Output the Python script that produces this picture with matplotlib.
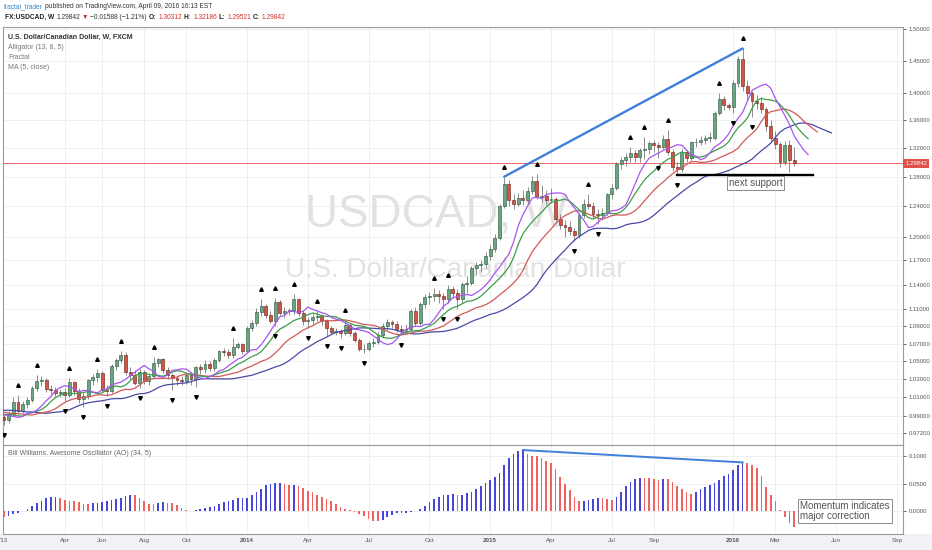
import matplotlib
matplotlib.use('Agg')
import matplotlib.pyplot as plt
from matplotlib.patches import Rectangle
import matplotlib.transforms as mtransforms
import numpy as np
import pandas as pd

# ---- weekly FX:USDCAD (FXCM), first visible bar = week of 2013-01-06 ----
first_week = '2013-01-06'

# closes of the 2012 weeks before the visible window (warm-up for the indicators)
prior_close = [0.997, 0.996, 0.989, 0.985, 0.988, 1.002, 1.017, 1.024, 1.036, 1.031,
               1.024, 1.027, 1.018, 1.017, 1.021, 1.013, 1.015, 1.003, 0.994, 0.992,
               0.990, 0.988, 0.982, 0.972, 0.978, 0.983, 0.986, 0.982, 0.988, 0.997,
               0.999, 0.998, 1.000, 0.998, 0.993, 0.991, 0.987, 0.988, 0.993, 0.9885]

close = [0.986, 0.992, 1.005, 0.995, 1.003, 1.0075, 1.020, 1.0275, 1.029, 1.019,
         1.018, 1.015, 1.016, 1.012, 1.0265, 1.017, 1.008, 1.011, 1.0285, 1.032,
         1.037, 1.018, 1.017, 1.045, 1.051, 1.057, 1.038, 1.035, 1.026, 1.038,
         1.028, 1.033, 1.048, 1.052, 1.040, 1.034, 1.031, 1.029, 1.028, 1.034,
         1.030, 1.043, 1.041, 1.047, 1.042, 1.051, 1.061, 1.0605, 1.057, 1.066,
         1.070, 1.062, 1.0885, 1.094, 1.107, 1.114, 1.103, 1.096, 1.119, 1.106,
         1.108, 1.109, 1.122, 1.106, 1.096, 1.0975, 1.101, 1.102, 1.096, 1.088,
         1.0835, 1.084, 1.082, 1.092, 1.082, 1.0745, 1.064, 1.0635, 1.071, 1.072,
         1.080, 1.090, 1.0955, 1.093, 1.0865, 1.086, 1.087, 1.108, 1.094, 1.116,
         1.125, 1.126, 1.128, 1.1255, 1.122, 1.134, 1.130, 1.122, 1.141, 1.142,
         1.160, 1.164, 1.165, 1.176, 1.185, 1.199, 1.241, 1.2705, 1.2485, 1.243,
         1.2515, 1.248, 1.260, 1.2745, 1.2525, 1.254, 1.2485, 1.250, 1.2235, 1.215,
         1.213, 1.207, 1.202, 1.2285, 1.243, 1.241, 1.230, 1.228, 1.231, 1.256,
         1.264, 1.297, 1.303, 1.308, 1.3125, 1.308, 1.317, 1.319, 1.3265, 1.325,
         1.321, 1.3325, 1.314, 1.293, 1.290, 1.314, 1.306, 1.328, 1.329, 1.331,
         1.335, 1.335, 1.370, 1.3915, 1.382, 1.379, 1.416, 1.4525, 1.411, 1.400,
         1.389, 1.385, 1.376, 1.351, 1.334, 1.326, 1.301, 1.325, 1.30312, 1.29842]

high = [0.992, 0.995, 1.010, 1.012, 1.006, 1.010, 1.022, 1.034, 1.033, 1.031,
        1.024, 1.021, 1.019, 1.020, 1.031, 1.028, 1.020, 1.015, 1.030, 1.036,
        1.041, 1.039, 1.023, 1.047, 1.053, 1.062, 1.060, 1.043, 1.040, 1.041,
        1.040, 1.036, 1.055, 1.054, 1.053, 1.043, 1.037, 1.035, 1.033, 1.038,
        1.037, 1.045, 1.047, 1.051, 1.050, 1.054, 1.063, 1.065, 1.064, 1.076,
        1.072, 1.071, 1.090, 1.098, 1.112, 1.122, 1.117, 1.108, 1.124, 1.121,
        1.113, 1.112, 1.128, 1.124, 1.109, 1.101, 1.104, 1.108, 1.105, 1.099,
        1.090, 1.088, 1.087, 1.098, 1.094, 1.085, 1.076, 1.069, 1.073, 1.076,
        1.083, 1.094, 1.099, 1.098, 1.096, 1.091, 1.093, 1.110, 1.113, 1.119,
        1.128, 1.131, 1.136, 1.133, 1.130, 1.140, 1.138, 1.135, 1.143, 1.150,
        1.163, 1.168, 1.170, 1.180, 1.190, 1.204, 1.243, 1.280, 1.275, 1.256,
        1.258, 1.262, 1.266, 1.281, 1.284, 1.268, 1.262, 1.265, 1.253, 1.230,
        1.222, 1.220, 1.211, 1.232, 1.250, 1.256, 1.246, 1.236, 1.238, 1.258,
        1.270, 1.300, 1.308, 1.313, 1.322, 1.317, 1.320, 1.336, 1.330, 1.331,
        1.328, 1.338, 1.346, 1.318, 1.301, 1.318, 1.317, 1.330, 1.334, 1.337,
        1.339, 1.343, 1.373, 1.400, 1.396, 1.386, 1.420, 1.457, 1.469, 1.420,
        1.404, 1.398, 1.394, 1.380, 1.360, 1.345, 1.328, 1.330, 1.332, 1.32186]

low = [0.980, 0.983, 0.990, 0.992, 0.993, 0.999, 1.005, 1.017, 1.022, 1.016,
       1.014, 1.011, 1.010, 1.006, 1.010, 1.013, 1.004, 1.000, 1.008, 1.024,
       1.027, 1.016, 1.011, 1.015, 1.040, 1.048, 1.035, 1.030, 1.023, 1.020,
       1.025, 1.024, 1.031, 1.043, 1.037, 1.030, 1.018, 1.024, 1.024, 1.025,
       1.024, 1.021, 1.036, 1.037, 1.039, 1.039, 1.049, 1.056, 1.053, 1.054,
       1.064, 1.058, 1.060, 1.085, 1.090, 1.102, 1.100, 1.094, 1.090, 1.103,
       1.100, 1.103, 1.105, 1.102, 1.091, 1.088, 1.093, 1.096, 1.092, 1.079,
       1.081, 1.080, 1.076, 1.080, 1.079, 1.072, 1.062, 1.059, 1.062, 1.066,
       1.069, 1.077, 1.086, 1.088, 1.083, 1.080, 1.082, 1.085, 1.090, 1.092,
       1.112, 1.117, 1.120, 1.118, 1.111, 1.118, 1.124, 1.110, 1.118, 1.130,
       1.140, 1.152, 1.156, 1.160, 1.170, 1.181, 1.196, 1.238, 1.240, 1.236,
       1.240, 1.242, 1.243, 1.256, 1.250, 1.246, 1.242, 1.244, 1.220, 1.210,
       1.200, 1.202, 1.195, 1.199, 1.225, 1.236, 1.225, 1.217, 1.222, 1.228,
       1.250, 1.262, 1.290, 1.295, 1.300, 1.300, 1.300, 1.305, 1.312, 1.315,
       1.306, 1.318, 1.310, 1.288, 1.283, 1.286, 1.301, 1.302, 1.321, 1.324,
       1.326, 1.328, 1.332, 1.367, 1.375, 1.375, 1.370, 1.410, 1.404, 1.390,
       1.364, 1.376, 1.370, 1.345, 1.330, 1.318, 1.294, 1.296, 1.287, 1.29521]

# bars carrying a Williams fractal mark
fractal_up = [3, 7, 14, 20, 25, 32, 49, 55, 58, 62, 67, 73, 92, 95, 107, 114,
              125, 134, 137, 142, 153, 158]
fractal_down = [0, 13, 17, 22, 29, 36, 41, 58, 65, 69, 72, 77, 85, 94, 97, 122,
                127, 140, 144, 156, 160]

tick_months = ['2013-01', '2013-04', '2013-06', '2013-08', '2013-10', '2014-01',
               '2014-04', '2014-07', '2014-10', '2015-01', '2015-04', '2015-07',
               '2015-09', '2016-01', '2016-03', '2016-06', '2016-09']
tick_labels = ["'13", 'Apr', 'Jun', 'Aug', 'Oct', '2014', 'Apr', 'Jul', 'Oct',
               '2015', 'Apr', 'Jul', 'Sep', '2016', 'Mar', 'Jun', 'Sep']
price_ticks = [0.972, 0.99, 1.01, 1.03, 1.05, 1.07, 1.09, 1.11, 1.14, 1.17, 1.20,
               1.24, 1.28, 1.32, 1.36, 1.40, 1.45, 1.50]
ao_ticks = [0.0, 0.05, 0.10]

# ---- derived series ----
n = len(close)
idx = np.arange(n)
c = np.array(close)
h = np.array(high)
l = np.array(low)
o = np.array([prior_close[-1]] + close[:-1])
npre = len(prior_close)
x_full = np.arange(-npre, n)

full_close = pd.Series(prior_close + close)
hl2 = pd.Series(prior_close + list((h + l) / 2))


def smma(s, length):
    return s.ewm(alpha=1.0 / length, adjust=False).mean()


jaw = smma(hl2, 13)
teeth = smma(hl2, 8)
lips = smma(hl2, 5)
ma5 = full_close.rolling(5).mean()
ao_full = (hl2.rolling(5).mean() - hl2.rolling(34).mean()).values
ao = ao_full[npre:]
ao_prev = ao_full[npre - 1:-1]
ao_col = np.where(ao > ao_prev, '#4646D8', '#EE6262')

start = pd.Timestamp(first_week)


def week_pos(month):
    m = pd.Timestamp(month + '-01')
    d = m + pd.Timedelta(days=(6 - m.dayofweek) % 7)
    return (d - start).days / 7.0


tick_x = [week_pos(m) for m in tick_months]

ui = ['Liberation Sans', 'DejaVu Sans']

W, H = 932, 550
fig = plt.figure(figsize=(W / 100, H / 100), dpi=100)
fig.patch.set_facecolor('white')
fig.patches.append(Rectangle((0, 0), 1, 16 / H, transform=fig.transFigure,
                             fc='#F0F2F5', ec='none', zorder=-5))

ax = fig.add_axes([3 / W, 105 / H, 900 / W, 418 / H])
ax2 = fig.add_axes([3 / W, 16 / H, 900 / W, 89 / H], sharex=ax)

for a in (ax, ax2):
    for s in a.spines.values():
        s.set_color('#9A9A9A')
        s.set_linewidth(0.8)
    a.set_facecolor('white')

# ---- price pane ----
ax.set_yscale('log')
ax.set_xlim(-0.21, 192.3)
ax.set_ylim(0.9596, 1.5032)
ax.minorticks_off()

for xv in tick_x[1:]:
    ax.axvline(xv, color='#ECECEC', lw=0.6, zorder=0)
    ax2.axvline(xv, color='#ECECEC', lw=0.6, zorder=0)
for yv in price_ticks:
    ax.axhline(yv, color='#ECECEC', lw=0.6, zorder=0)

ax.text(0.336, 0.55, 'USDCAD, W', transform=ax.transAxes, family=ui,
        fontsize=33, color='#E2E2E2', ha='left', va='center', zorder=1)
ax.text(0.313, 0.419, 'U.S. Dollar/Canadian Dollar', transform=ax.transAxes,
        family=ui, fontsize=20, color='#E2E2E2', ha='left', va='center', zorder=1)

ax.axhline(c[-1], color='#EC6A62', lw=0.7, zorder=2)

up = c >= o
ax.vlines(idx, l, h, color='#7A7A7A', lw=0.6, zorder=3)
body_lo = np.minimum(o, c)
body_h = np.maximum(np.abs(c - o), 0.0007)
ax.bar(idx[up], body_h[up], bottom=body_lo[up], width=0.62, color='#6BA583',
       edgecolor='#225437', lw=0.4, zorder=4)
ax.bar(idx[~up], body_h[~up], bottom=body_lo[~up], width=0.62, color='#D75442',
       edgecolor='#5B1A13', lw=0.4, zorder=4)

ax.plot(x_full + 8, jaw, color='#4A4AA8', lw=0.9, zorder=5)
ax.plot(x_full + 5, teeth, color='#D25A5A', lw=0.9, zorder=5)
ax.plot(x_full + 3, lips, color='#3E9E4A', lw=0.9, zorder=5)
ax.plot(x_full + 3, ma5, color='#A855F0', lw=0.9, zorder=5)

up_tr = mtransforms.offset_copy(ax.transData, fig=fig, x=0, y=10, units='dots')
dn_tr = mtransforms.offset_copy(ax.transData, fig=fig, x=0, y=-10, units='dots')
ax.plot(fractal_up, h[fractal_up], ls='none', marker='^', ms=2.6, color='black',
        transform=up_tr, zorder=6)
ax.plot(fractal_down, l[fractal_down], ls='none', marker='v', ms=2.6, color='black',
        transform=dn_tr, zorder=6)

# drawings
ax.plot([107, 158], [h[107], h[158]], color='#3F80DD', lw=1.7, zorder=7,
        solid_capstyle='round')
ax.plot([144, 173], [l[144], l[144]], color='black', lw=1.7, zorder=7)
ax.text(155.0, 1.2715, 'next support', fontsize=7, family=ui, color='#555555',
        ha='left', va='center', zorder=8,
        bbox=dict(boxstyle='square,pad=0.2', fc='white', ec='#8A8A8A', lw=0.7))

ax.yaxis.tick_right()
ax.yaxis.set_ticks(price_ticks)
ax.yaxis.set_ticklabels(['%.5f' % v for v in price_ticks])
ax.tick_params(axis='y', which='both', direction='out', length=2.5, width=0.6,
               colors='#555555', labelsize=4.3, pad=1.5)
ax.tick_params(axis='x', length=0, labelbottom=False)
for t in ax.get_yticklabels():
    t.set_family(ui)

ax.text(1.0025, c[-1], '%.5f' % c[-1], transform=ax.get_yaxis_transform(),
        ha='left', va='center', fontsize=4.3, family=ui, color='white', zorder=9,
        bbox=dict(boxstyle='square,pad=0.35', fc='#E0524A', ec='none'))

legend_rows = [('U.S. Dollar/Canadian Dollar, W, FXCM', '#333333', 'bold', 0.976),
               ('Alligator (13, 8, 5)', '#777777', 'normal', 0.951),
               ('Fractal', '#777777', 'normal', 0.927),
               ('MA (5, close)', '#777777', 'normal', 0.903)]
for txt, col, wt, yy in legend_rows:
    ax.text(0.0056, yy, txt, transform=ax.transAxes, fontsize=5, family=ui,
            color=col, fontweight=wt, ha='left', va='center', zorder=9)

# ---- awesome oscillator pane ----
ax2.set_ylim(-0.0418, 0.1200)
for yv in ao_ticks:
    ax2.axhline(yv, color='#ECECEC', lw=0.6, zorder=0)
ax2.bar(idx, ao, width=0.36, color=ao_col, zorder=3)

ia = 100 + int(np.argmax(ao[100:125]))
ib = 150 + int(np.argmax(ao[150:165]))
ax2.plot([ia, ib], [ao[ia], ao[ib]], color='#3F80DD', lw=1.4, zorder=4)

ax2.text(170.3, 0.0, 'Momentum indicates\nmajor correction', fontsize=7,
         family=ui, color='#555555', ha='left', va='center', linespacing=1.0,
         zorder=8, bbox=dict(boxstyle='square,pad=0.2', fc='white', ec='#8A8A8A', lw=0.7))
ax2.text(0.0056, 0.91, 'Bill Williams. Awesome Oscillator (AO) (34, 5)',
         transform=ax2.transAxes, fontsize=5, family=ui, color='#666666',
         ha='left', va='center')

ax2.yaxis.tick_right()
ax2.yaxis.set_ticks(ao_ticks)
ax2.yaxis.set_ticklabels(['%.4f' % v for v in ao_ticks])
ax2.tick_params(axis='y', direction='out', length=2.5, width=0.6, colors='#555555',
                labelsize=4.3, pad=1.5)
ax2.set_xticks(tick_x)
ax2.set_xticklabels(tick_labels)
ax2.tick_params(axis='x', length=0, pad=3, labelsize=4.5, colors='#555555')
for t in ax2.get_xticklabels() + ax2.get_yticklabels():
    t.set_family(ui)
for t in ax2.get_xticklabels():
    if t.get_text().startswith('20'):
        t.set_fontweight('bold')

# ---- header (pieces laid out one after another) ----
renderer = fig.canvas.get_renderer()


def text_row(pieces, x0, y, size):
    xp = x0
    for txt, col, wt in pieces:
        t = fig.text(xp / W, y, txt, color=col, fontsize=size, family=ui,
                     fontweight=wt, va='center')
        bb = t.get_window_extent(renderer)
        xp = bb.x1 + 2


text_row([('fractal_trader', '#2F8AD0', 'normal'),
          ('published on TradingView.com, April 09, 2016 16:13 EST', '#333333', 'normal')],
         4, 1 - 7 / H, 4.8)
text_row([('FX:USDCAD, W', '#222222', 'bold'),
          ('1.29842', '#333333', 'normal'),
          ('\u25bc', '#D0312D', 'normal'),
          ('\u22120.01588 (\u22121.21%)', '#333333', 'normal'),
          ('O:', '#222222', 'bold'), ('1.30312', '#D0312D', 'normal'),
          ('H:', '#222222', 'bold'), ('1.32186', '#D0312D', 'normal'),
          ('L:', '#222222', 'bold'), ('1.29521', '#D0312D', 'normal'),
          ('C:', '#222222', 'bold'), ('1.29842', '#D0312D', 'normal')],
         5, 1 - 17.5 / H, 4.8)

fig.savefig('out.png', dpi=100, facecolor=fig.get_facecolor())
plt.close(fig)
